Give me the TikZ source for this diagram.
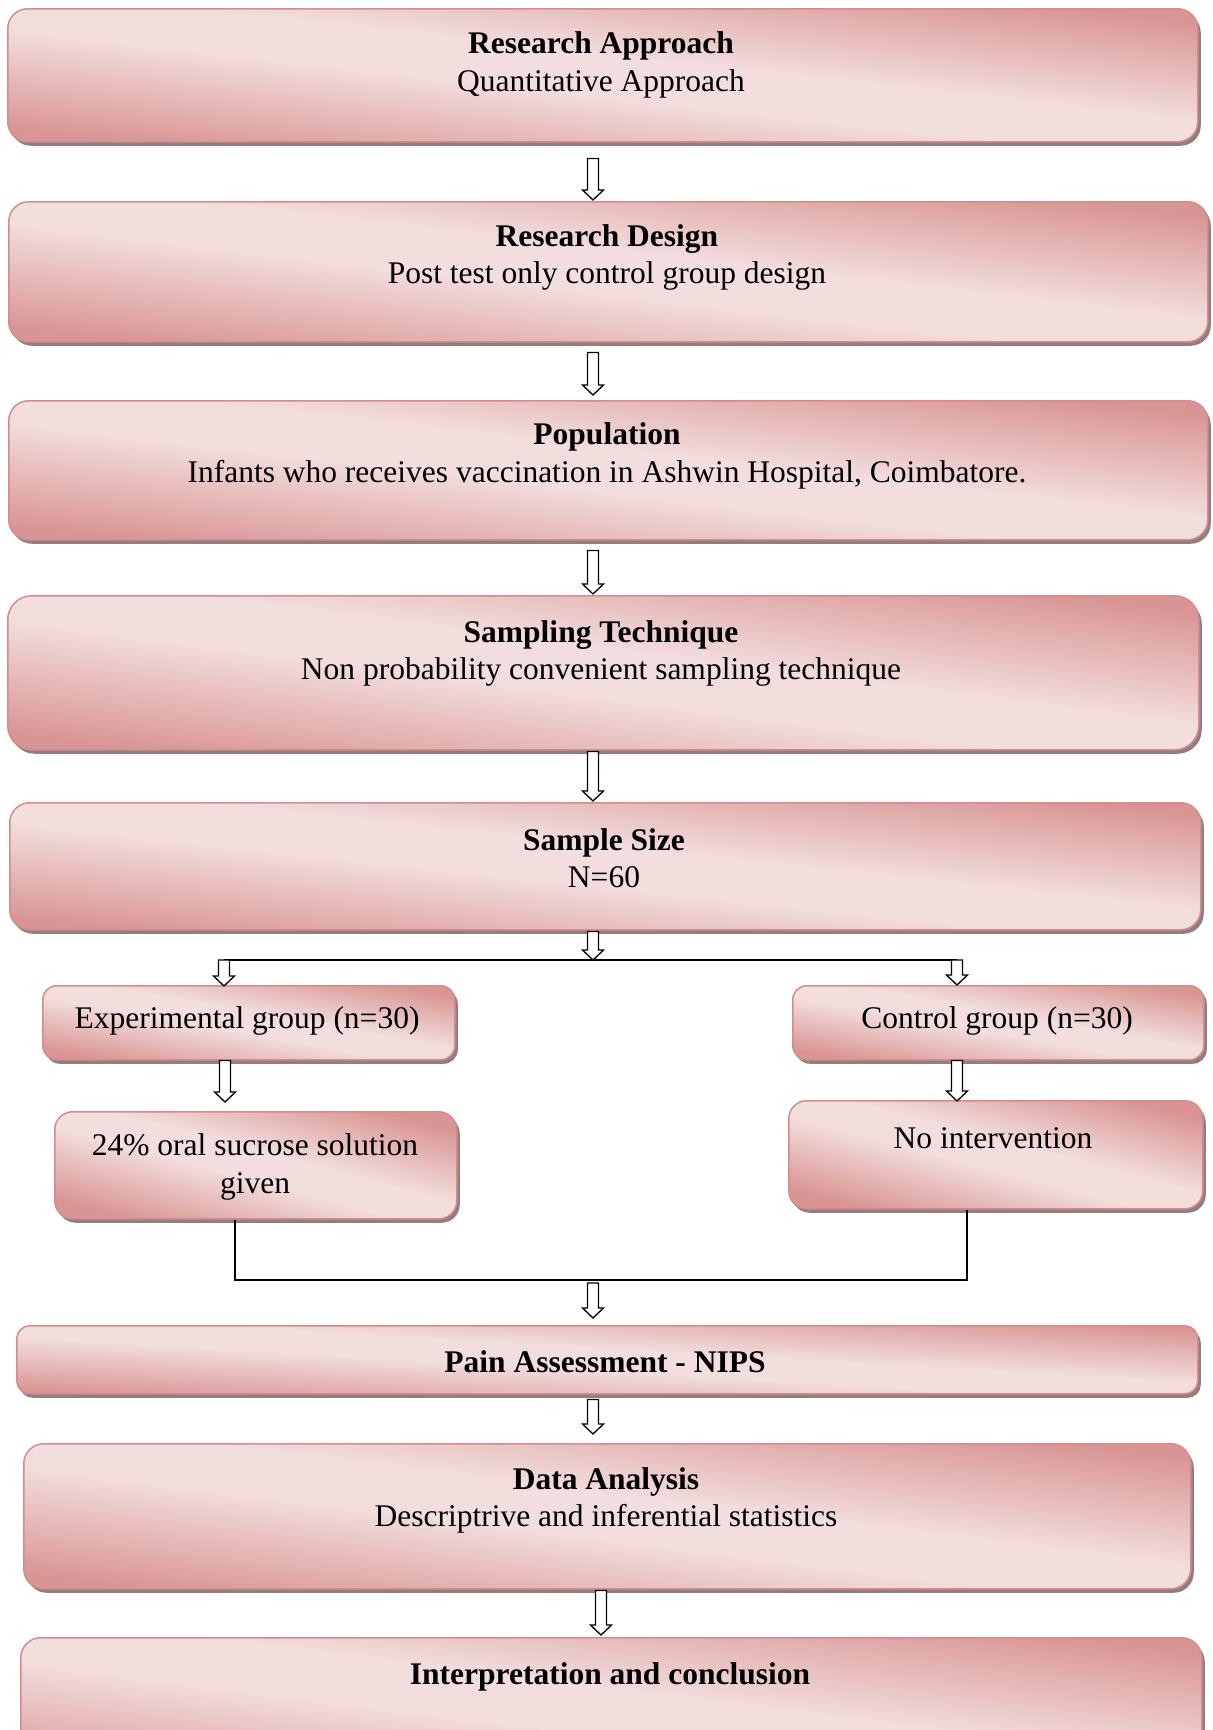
\documentclass[tikz,border=0pt]{standalone}
\usepackage{fontspec}
\setmainfont{Liberation Serif}
\usetikzlibrary{calc,shadows}
\definecolor{pdark}{RGB}{217,149,148}
\definecolor{plight}{RGB}{243,222,222}
\definecolor{pedge}{RGB}{212,140,140}
\definecolor{shadowc}{RGB}{150,125,125}
\pgfdeclareverticalshading{pinkband}{100bp}{color(0bp)=(pdark); color(25bp)=(pdark);
  color(46bp)=(plight); color(54bp)=(plight); color(75bp)=(pdark); color(100bp)=(pdark)}
\newcommand\barr[2]{\draw[blockarr] let \p1=#1, \p2=#2 in
  (\x1-5.5pt,\y1) -- (\x1+5.5pt,\y1) -- (\x1+5.5pt,\y2+10pt) -- (\x1+10.5pt,\y2+10pt)
  -- (\x1,\y2) -- (\x1-10.5pt,\y2+10pt) -- (\x1-5.5pt,\y2+10pt) -- cycle;}
\begin{document}
\begin{tikzpicture}[x=1pt,y=-1pt,
  box/.style={draw=pedge, line width=1.5pt, rounded corners=#1, shading=pinkband,
    inner sep=0pt, anchor=north west,
    drop shadow={shadow xshift=3pt, shadow yshift=-4pt, fill=shadowc, opacity=1}},
  box/.default=20pt,
  txt/.style={font=\fontsize{31.5}{37.5}\selectfont, align=center, inner sep=0pt},
  blockarr/.style={draw=black, fill=white, line width=1.3pt, line join=miter},
  conn/.style={draw=black, line width=1.5pt}]
\useasboundingbox (0,0) rectangle (1213,1730);
\clip (0,0) rectangle (1213,1730);

\coordinate (ax) at (593,0);
\coordinate (ax2) at (601,0);
\coordinate (brL) at (224,960);
\coordinate (brR) at (957,960);
\coordinate (exA) at (225,0);
\coordinate (mL) at (235,1280);
\coordinate (mR) at (967,1280);

% boxes
\node[box, shading angle=-6.4, minimum width=1190pt, minimum height=133pt] (b1) at (7,8) {};
\node[box, shading angle=-6.7, minimum width=1199pt, minimum height=140pt] (b2) at (8,201) {};
\node[box, shading angle=-6.6, minimum width=1199pt, minimum height=139pt] (b3) at (8,400) {};
\node[box=24pt, shading angle=-7.4, minimum width=1191pt, minimum height=154pt] (b4) at (7,595) {};
\node[box, shading angle=-6.1, minimum width=1191pt, minimum height=127pt] (b5) at (9,802) {};
\node[box=14pt, shading angle=-10.2, minimum width=412pt, minimum height=74pt] (exp) at (42,985) {};
\node[box=14pt, shading angle=-10.2, minimum width=411pt, minimum height=74pt] (ctl) at (792,985) {};
\node[box=18pt, shading angle=-14.9, minimum width=402pt, minimum height=107pt] (suc) at (54,1111) {};
\node[box=18pt, shading angle=-14.6, minimum width=414pt, minimum height=108pt] (noi) at (788,1100) {};
\node[box=13pt, shading angle=-3.3, minimum width=1181pt, minimum height=68pt] (pain) at (16,1325) {};
\node[box, shading angle=-7.1, minimum width=1167pt, minimum height=145pt] (data) at (23,1443) {};
\node[box, shading angle=-7.2, minimum width=1181pt, minimum height=150pt] (last) at (20,1637) {};

% texts
\node[txt] (t1) at (601,65) {\textbf{Research Approach}\\Quantitative Approach};
\node[txt] (t2) at (607,257.5) {\textbf{Research Design}\\Post test only control group design};
\node[txt] (t3) at (607,456) {\textbf{Population}\\Infants who receives vaccination in Ashwin Hospital, Coimbatore.};
\node[txt] (t4) at (601,653.5) {\textbf{Sampling Technique}\\Non probability convenient sampling technique};
\node[txt] (t5) at (604,858) {\textbf{Sample Size}\\N=60};
\node[txt] (texp) at (247,1021) {Experimental group (n=30)};
\node[txt] (tctl) at (997,1021) {Control group (n=30)};
\node[txt] (tsuc) at (255,1167) {24\% oral sucrose solution\\given};
\node[txt] (tnoi) at (993,1138) {No intervention};
\node[txt] (tpain) at (605,1362) {\textbf{Pain Assessment - NIPS}};
\node[txt] (tdata) at (606,1500.5) {\textbf{Data Analysis}\\Descriptrive and inferential statistics};
\node[txt] (tlast) at (610,1677) {\textbf{Interpretation and conclusion}};

% connectors
\barr{($(b1.south -| ax)+(0,16)$)}{($(b2.north -| ax)+(0,-1)$)}
\barr{($(b2.south -| ax)+(0,10)$)}{($(b3.north -| ax)+(0,-5)$)}
\barr{($(b3.south -| ax)+(0,10)$)}{($(b4.north -| ax)+(0,-1)$)}
\barr{($(b4.south -| ax)+(0,1)$)}{($(b5.north -| ax)+(0,-1)$)}
\barr{($(b5.south -| ax)+(0,1)$)}{(ax |- brL)}
\draw[conn] (brL) -- (brR);
\barr{(brL)}{($(exp.north -| brL)+(0,1)$)}
\barr{(brR)}{(ctl.north -| brR)}
\barr{(exp.south -| exA)}{($(suc.north -| exA)+(0,-9)$)}
\barr{(ctl.south -| brR)}{($(noi.north -| brR)+(0,1)$)}
\draw[conn] (suc.south -| mL) -- (mL) -- (mR) -- (noi.south -| mR);
\barr{($(mL -| ax)+(0,3)$)}{($(pain.north -| ax)+(0,-7)$)}
\barr{($(pain.south -| ax)+(0,5)$)}{($(data.north -| ax)+(0,-9)$)}
\barr{($(data.south -| ax2)+(0,1)$)}{($(last.north -| ax2)+(0,-2)$)}
\end{tikzpicture}
\end{document}
